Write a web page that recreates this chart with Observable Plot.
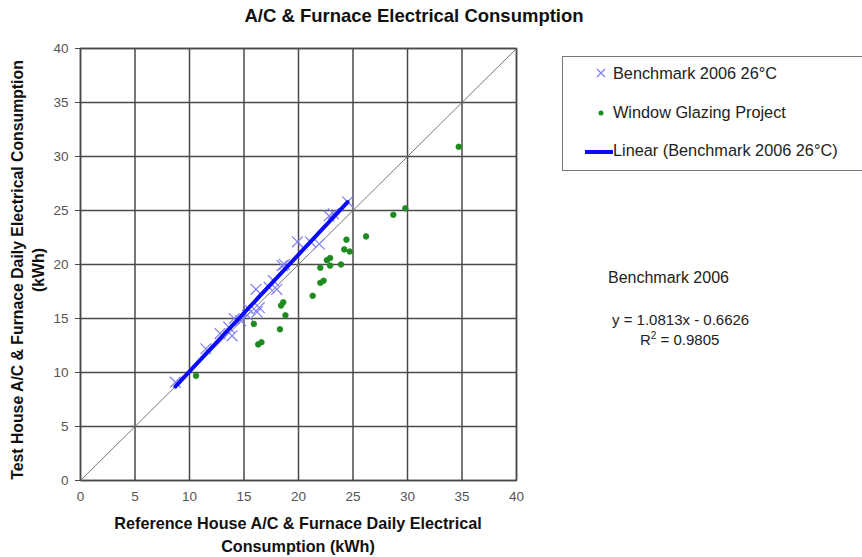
<!DOCTYPE html>
<html>
<head>
<meta charset="utf-8">
<script src="https://cdn.jsdelivr.net/npm/d3@7"></script>
<script src="https://cdn.jsdelivr.net/npm/@observablehq/plot@0.6"></script>
<style>
  html, body { margin: 0; padding: 0; background: #fff; }
  body { width: 862px; height: 557px; overflow: hidden; font-family: "Liberation Sans", Arial, sans-serif; }
  #wrap { position: relative; width: 862px; height: 557px; }
  #title { position: absolute; left: 0; top: 5px; width: 828px; text-align: center; font-weight: bold; font-size: 18.5px; color: #111; letter-spacing: 0px; }
  #chart { position: absolute; left: 0; top: 30px; }
  .xlab { position: absolute; left: 80px; width: 436px; text-align: center; font-weight: bold; font-size: 16.2px; color: #111; }
  #ylab { position: absolute; left: 28px; top: 270px; width: 440px; text-align: center; font-weight: bold; font-size: 15.8px; color: #111; line-height: 21px; transform: translate(-50%, -50%) rotate(-90deg); }
  #legend { position: absolute; left: 562px; top: 56px; width: 320px; height: 115px; border: 1px solid #777; box-sizing: border-box; }
  .li { position: absolute; left: 50px; font-size: 16.3px; color: #222; }
  .ann { position: absolute; font-size: 15px; color: #222; }
</style>
</head>
<body>
<div id="wrap">
  <div id="title">A/C &amp; Furnace Electrical Consumption</div>
  <div id="chart"></div>
  <div class="xlab" style="top:514px">Reference House A/C &amp; Furnace Daily Electrical</div>
  <div class="xlab" style="top:537px">Consumption (kWh)</div>
  <div id="ylab">Test House A/C &amp; Furnace Daily Electrical Consumption<br>(kWh)</div>
  <div id="legend"></div>
  <div class="ann" style="left:608px; top:269px; font-size:16px">Benchmark 2006</div>
  <div class="ann" style="left:612px; top:311px">y = 1.0813x - 0.6626</div>
  <div class="ann" style="left:640px; top:330px">R<sup style="font-size:10px">2</sup> = 0.9805</div>
</div>
<script>
// Benchmark 2006 26°C (reference kWh, test kWh)
const benchX = [8.7, 11.5, 12.8, 13.6, 13.9, 14.1, 14.7, 15.3, 15.4, 16.1, 16.2, 16.4, 17.3, 17.7, 18.0, 18.5, 18.7, 19.9, 21.1, 21.9, 22.8, 23.2, 24.5];
const benchY = [9.1, 12.2, 13.6, 14.2, 13.4, 15.0, 14.8, 15.3, 15.9, 17.7, 15.6, 16.0, 17.9, 18.5, 17.7, 19.9, 20.0, 22.1, 22.1, 21.9, 24.5, 24.7, 25.8];
// Window Glazing Project
const glazX = [10.6, 15.9, 16.3, 16.6, 18.3, 18.4, 18.6, 18.8, 21.3, 22.0, 22.3, 22.0, 22.9, 22.6, 22.9, 23.9, 24.2, 24.7, 24.4, 26.2, 28.7, 29.8, 34.7];
const glazY = [9.7, 14.5, 12.6, 12.8, 14.0, 16.2, 16.5, 15.3, 17.1, 18.3, 18.5, 19.7, 19.9, 20.4, 20.6, 20.0, 21.4, 21.2, 22.3, 22.6, 24.6, 25.2, 30.9];
const axisTicks = [0, 5, 10, 15, 20, 25, 30, 35, 40];
const diagonal = [0, 40];
const legendLabels = ["Benchmark 2006 26°C", "Window Glazing Project", "Linear (Benchmark 2006 26°C)"];

const bench = benchX.map((x, i) => ({x, y: benchY[i]}));
const glaz = glazX.map((x, i) => ({x, y: glazY[i]}));

const chart = Plot.plot({
  width: 862,
  height: 527,
  marginLeft: 80,
  marginRight: 346,
  marginTop: 18,
  marginBottom: 77,
  style: {fontFamily: "Liberation Sans, Arial, sans-serif", fontSize: "13px", color: "#333", background: "#fff"},
  x: {domain: [0, 40]},
  y: {domain: [0, 40]},
  marks: [
    Plot.gridX(axisTicks, {stroke: "#4a4a4a", strokeOpacity: 1, strokeWidth: 1.5}),
    Plot.gridY(axisTicks, {stroke: "#4a4a4a", strokeOpacity: 1, strokeWidth: 1.5}),
    Plot.frame({stroke: "#4a4a4a", strokeWidth: 1.5}),
    Plot.axisX({ticks: axisTicks, tickSize: 0, tickPadding: 11, label: null, fill: "#555", fontSize: 13.5}),
    Plot.axisY({ticks: axisTicks, tickSize: 5, tickPadding: 7, label: null, fill: "#555", fontSize: 13.5, stroke: "#4a4a4a"}),
    Plot.line(diagonal, {x: d => d, y: d => d, stroke: "#777", strokeWidth: 1}),
    Plot.dot(glaz, {x: "x", y: "y", symbol: "circle", r: 2.8, fill: "#1f8a1f", stroke: "#1f8a1f", strokeWidth: 0.8}),
    Plot.dot(bench, {x: "x", y: "y", symbol: "times", r: 5, stroke: "#7f7ff2", strokeWidth: 1.2}),
    Plot.linearRegressionY(bench, {x: "x", y: "y", ci: 0, stroke: "#0a0aff", strokeWidth: 4, strokeOpacity: 1})
  ]
});
document.getElementById("chart").appendChild(chart);

// Legend
const leg = d3.select("#legend");
const ys = [17, 56, 94];
const svg = leg.append("svg").attr("width", 50).attr("height", 115).style("position", "absolute").style("left", "0").style("top", "0");
svg.append("path").attr("d", "M34,12 l8,8 M42,12 l-8,8").attr("stroke", "#7f7ff2").attr("stroke-width", 1.2);
svg.append("circle").attr("cx", 38).attr("cy", 56).attr("r", 2.5).attr("fill", "#1f8a1f");
svg.append("line").attr("x1", 22).attr("x2", 50).attr("y1", 95).attr("y2", 95).attr("stroke", "#0a0aff").attr("stroke-width", 4);
legendLabels.forEach((t, i) => {
  leg.append("div").attr("class", "li").style("top", (ys[i] - 10) + "px").text(t);
});
</script>
</body>
</html>
